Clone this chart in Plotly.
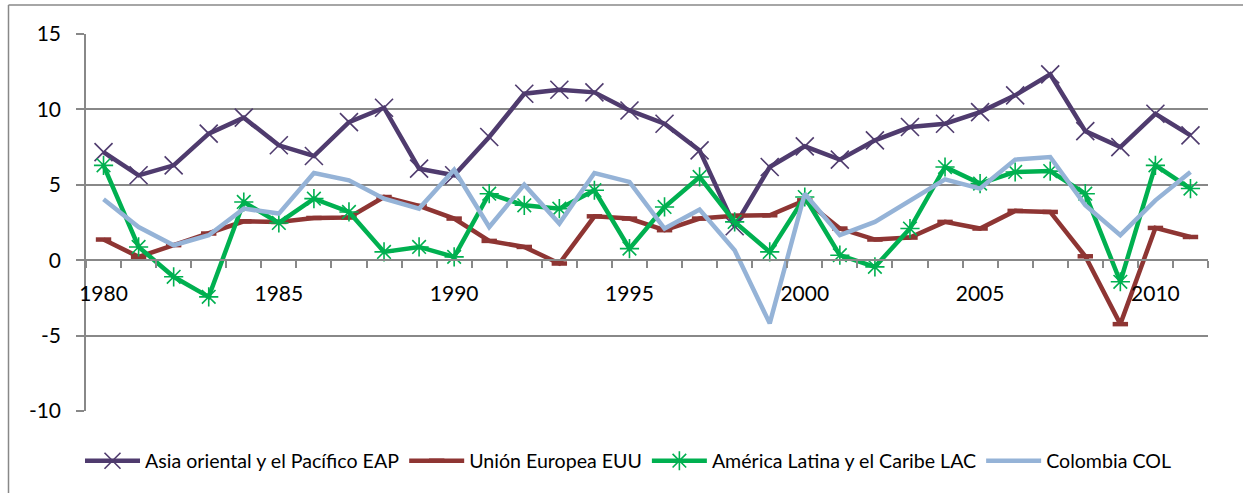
import plotly.graph_objects as go

years = list(range(1980, 2012))
tick_years = [1980, 1985, 1990, 1995, 2000, 2005, 2010]
y_ticks = [-10, -5, 0, 5, 10, 15]
y_tick_text = ["-10", "-5", "0", "5", "10", "15"]

eap = [7.17, 5.63, 6.29, 8.39, 9.45, 7.62, 6.91, 9.16, 10.11, 6.07,
       5.63, 8.17, 11.04, 11.30, 11.13, 9.93, 9.05, 7.28, 2.25, 6.18,
       7.55, 6.67, 7.95, 8.83, 9.05, 9.82, 10.93, 12.32, 8.56, 7.50,
       9.71, 8.28]
euu = [1.37, 0.22, 1.00, 1.77, 2.58, 2.54, 2.80, 2.83, 4.19, 3.60,
       2.76, 1.28, 0.88, -0.22, 2.91, 2.76, 1.99, 2.76, 2.94, 2.98,
       3.97, 2.10, 1.37, 1.50, 2.54, 2.10, 3.27, 3.20, 0.26, -4.24,
       2.14, 1.54]
lac = [6.29, 0.88, -1.10, -2.43, 3.86, 2.47, 4.08, 3.20, 0.55, 0.88,
       0.22, 4.41, 3.64, 3.42, 4.64, 0.77, 3.53, 5.52, 2.54, 0.55,
       4.19, 0.33, -0.44, 2.10, 6.18, 5.08, 5.85, 5.91, 4.41, -1.43,
       6.29, 4.75]
col = [4.04, 2.20, 0.99, 1.66, 3.42, 3.09, 5.78, 5.30, 4.08, 3.42,
       6.00, 2.20, 5.01, 2.43, 5.78, 5.19, 2.10, 3.36, 0.66, -4.19,
       4.41, 1.66, 2.54, 3.97, 5.36, 4.75, 6.67, 6.84, 3.64, 1.66,
       3.97, 5.85]

names = ["Asia oriental y el Pacífico EAP", "Unión Europea EUU",
         "América Latina y el Caribe LAC", "Colombia COL"]

C_EAP = "#4F3B6E"
C_EUU = "#8E3533"
C_LAC = "#00B050"
C_COL = "#95B3D7"
GRID = "#888888"
FONT = "Lato"

fig = go.Figure()
fig.add_trace(go.Scatter(
    x=years, y=eap, name=names[0], mode="lines+markers",
    line=dict(color=C_EAP, width=4.5),
    marker=dict(symbol="x-thin", size=18, line=dict(color=C_EAP, width=1.6))))
fig.add_trace(go.Scatter(
    x=years, y=euu, name=names[1], mode="lines+markers",
    line=dict(color=C_EUU, width=4.5),
    marker=dict(symbol="line-ew", size=11, line=dict(color=C_EUU, width=4.5))))
fig.add_trace(go.Scatter(
    x=years, y=lac, name=names[2], mode="lines+markers",
    line=dict(color=C_LAC, width=4.5),
    marker=dict(symbol="asterisk-open", size=16, line=dict(color=C_LAC, width=1.6))))
fig.add_trace(go.Scatter(
    x=years, y=col, name=names[3], mode="lines",
    line=dict(color=C_COL, width=4.5)))

W, H = 1243, 493
L, R, T, B = 86, 35, 34, 82
pw = W - L - R
ph = H - T - B

fig.update_layout(
    width=W, height=H,
    margin=dict(l=L, r=R, t=T, b=B, pad=0, autoexpand=False),
    paper_bgcolor="white", plot_bgcolor="white",
    font=dict(family=FONT, size=21, color="black"),
    showlegend=True,
    legend=dict(orientation="h", x=(80 - L) / pw, xanchor="left",
                y=-(461 - (T + ph)) / ph, yanchor="middle",
                font=dict(family=FONT, size=19.6, color="black"),
                itemwidth=55, tracegroupgap=0, bgcolor="rgba(0,0,0,0)"),
    xaxis=dict(
        type="linear", range=[1979.5, 2011.5],
        anchor="free", position=10 / 25,
        showline=True, linecolor=GRID, linewidth=1.5,
        showgrid=False, zeroline=False,
        tickmode="array", tickvals=tick_years,
        ticktext=[str(v) for v in tick_years],
        ticks="", ticklabelstandoff=15,
        tickfont=dict(family=FONT, size=21, color="black"),
        minor=dict(ticks="outside", tick0=1979.5, dtick=1, ticklen=7,
                   tickcolor=GRID, tickwidth=1.5, showgrid=False),
    ),
    yaxis=dict(
        range=[-10, 15], tickmode="array", tickvals=y_ticks,
        ticktext=y_tick_text,
        showgrid=True, gridcolor=GRID, gridwidth=1.5,
        showline=True, linecolor=GRID, linewidth=1.5,
        zeroline=False, ticks="outside", ticklen=8, tickcolor=GRID,
        tickwidth=1.5, ticklabelstandoff=11,
        tickfont=dict(family=FONT, size=21, color="black"),
    ),
)

# outer chart frame (left and top edges visible in the crop)
fig.add_shape(type="line", xref="paper", yref="paper",
              x0=(8.5 - L) / pw, x1=(8.5 - L) / pw,
              y0=(T + ph - 5) / ph, y1=-(H - T - ph + 5) / ph,
              line=dict(color=GRID, width=1.5), layer="above")
fig.add_shape(type="line", xref="paper", yref="paper",
              x0=(8.5 - L) / pw, x1=(W + 5 - L) / pw,
              y0=(T + ph - 5) / ph, y1=(T + ph - 5) / ph,
              line=dict(color=GRID, width=1.5), layer="above")

fig.write_html(
    "out.html",
    config={"displayModeBar": False},
    post_script="document.body.style.margin='0';document.body.style.padding='0';",
)
